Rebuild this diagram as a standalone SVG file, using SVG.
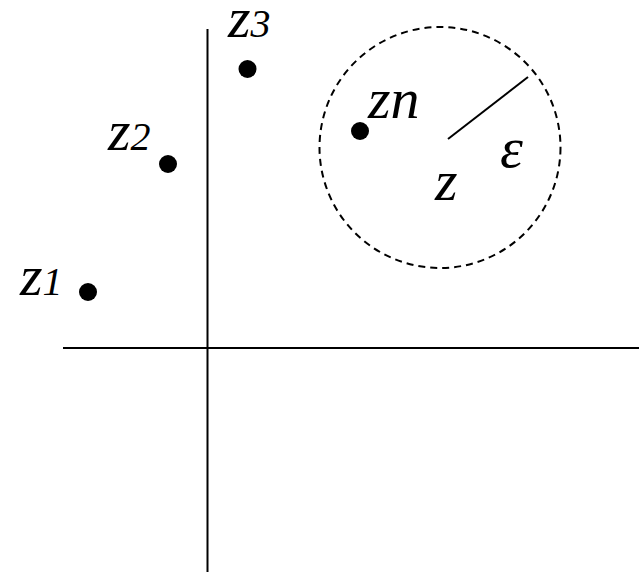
<svg xmlns="http://www.w3.org/2000/svg" width="639" height="572" viewBox="0 0 639 572">
<style>
.ax{stroke:#000;stroke-width:2;fill:none}
.dot{fill:#000}
.lb{font-family:"Liberation Serif",serif;font-style:italic;font-size:58px;fill:#000}
.sub{font-size:40px}
</style>
<rect width="639" height="572" fill="#fff"/>
<g id="connectors">
<line class="ax" x1="207.5" y1="29" x2="207.5" y2="572"/>
<line class="ax" x1="63" y1="348" x2="639" y2="348"/>
<circle class="ax" cx="440" cy="147.5" r="120.5" stroke-dasharray="7,5"/>
<line class="ax" x1="448" y1="139" x2="528" y2="77"/>
</g>
<g id="z1"><circle class="dot" cx="88" cy="292" r="9"/><text class="lb" x="20" y="295">z<tspan class="sub">1</tspan></text></g>
<g id="z2"><circle class="dot" cx="168" cy="164" r="9"/><text class="lb" x="108" y="150">z<tspan class="sub">2</tspan></text></g>
<g id="z3"><circle class="dot" cx="247.5" cy="69" r="9"/><text class="lb" x="228" y="37">z<tspan class="sub">3</tspan></text></g>
<g id="zn"><circle class="dot" cx="360" cy="131" r="9"/><text class="lb" x="368" y="118">z<tspan>n</tspan></text></g>
<g id="z"><text class="lb" x="435" y="200">z</text></g>
<g id="eps"><text class="lb" x="500" y="167">ε</text></g>
</svg>
